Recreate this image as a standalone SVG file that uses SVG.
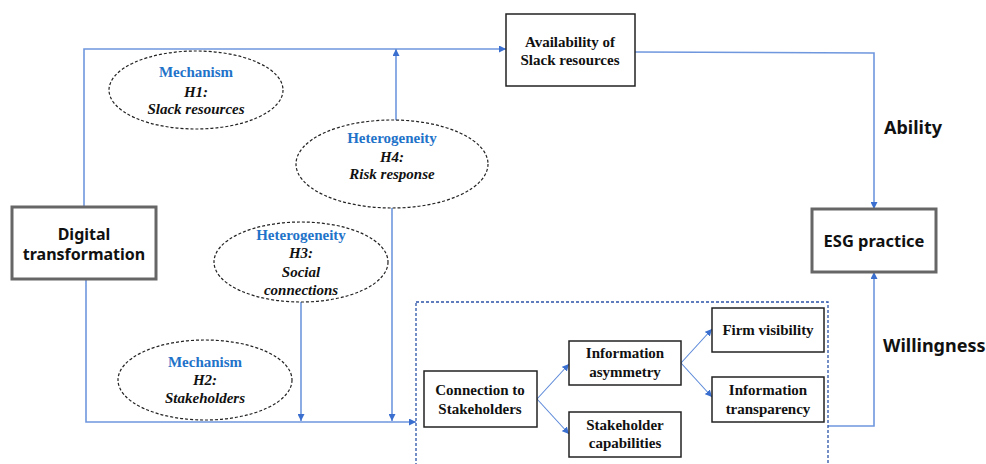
<svg xmlns="http://www.w3.org/2000/svg" width="986" height="464" viewBox="0 0 986 464">
  <defs>
    <marker id="arr" viewBox="0 0 10 10" refX="10" refY="5" markerWidth="7" markerHeight="7" markerUnits="userSpaceOnUse" orient="auto">
      <path d="M0,0 L10,5 L0,10 z" fill="#3a6fd0"/>
    </marker>
    <style>
      .wire { fill: none; stroke: #6f97de; stroke-width: 1.6; }
      .thin { fill: none; stroke: #5b88d8; stroke-width: 1.1; }
      .big { fill: #fff; stroke: #666; stroke-width: 3; }
      .box { fill: #fff; stroke: #222; stroke-width: 1.5; }
      .oval { fill: #fff; stroke: #222; stroke-width: 1.2; stroke-dasharray: 3 2; }
      .frame { fill: none; stroke: #2c53a8; stroke-width: 1.3; stroke-dasharray: 3 2; }
      .sans { font-family: "Noto Sans", "Open Sans", "DejaVu Sans", sans-serif; font-weight: bold; fill: #111; text-anchor: middle; }
      .label { font-family: "Noto Sans", "Open Sans", "DejaVu Sans", sans-serif; font-weight: bold; fill: #111; font-size: 18px; }
      .serif { font-family: "Liberation Serif", "Times New Roman", serif; font-weight: bold; fill: #111; font-size: 15px; text-anchor: middle; }
      .kind { fill: #1f73c9; }
      .it { font-style: italic; }
    </style>
  </defs>

  <!-- connectors -->
  <g id="connectors">
    <polyline class="wire" points="84,207 84,49 506,49" marker-end="url(#arr)"/>
    <polyline class="wire" points="635,52 874,53 874,209" marker-end="url(#arr)"/>
    <line class="wire" x1="396" y1="121" x2="396" y2="49" marker-end="url(#arr)"/>
    <line class="wire" x1="392" y1="208" x2="392" y2="421" marker-end="url(#arr)"/>
    <line class="wire" x1="301" y1="302" x2="301" y2="421" marker-end="url(#arr)"/>
    <polyline class="wire" points="86,279 86,422 416,422" marker-end="url(#arr)"/>
    <polyline class="wire" points="828,426 874,426 874,272" marker-end="url(#arr)"/>
    <line class="thin" x1="537" y1="399" x2="569" y2="364" marker-end="url(#arr)"/>
    <line class="thin" x1="537" y1="399" x2="569" y2="434" marker-end="url(#arr)"/>
    <line class="thin" x1="681" y1="363" x2="712" y2="329" marker-end="url(#arr)"/>
    <line class="thin" x1="681" y1="363" x2="712" y2="397" marker-end="url(#arr)"/>
  </g>

  <!-- stakeholder channel frame -->
  <rect class="frame" x="416" y="302" width="412" height="170"/>

  <g id="digital">
    <rect class="big" x="12" y="207" width="144" height="72"/>
    <text class="sans" font-size="16" x="84" y="240">Digital</text>
    <text class="sans" font-size="16" x="84" y="260">transformation</text>
  </g>

  <g id="slack">
    <rect class="box" x="506" y="14" width="129" height="72"/>
    <text class="serif" x="570" y="47">Availability of</text>
    <text class="serif" x="570" y="65">Slack resources</text>
  </g>

  <g id="esg">
    <rect class="big" x="812" y="209" width="124" height="63"/>
    <text class="sans" font-size="16.5" x="874" y="247">ESG practice</text>
  </g>

  <g id="h1">
    <ellipse class="oval" cx="196" cy="90" rx="87" ry="39"/>
    <text class="serif kind" x="196" y="77">Mechanism</text>
    <text class="serif it" x="196" y="97">H1:</text>
    <text class="serif it" x="196" y="114">Slack resources</text>
  </g>

  <g id="h4">
    <ellipse class="oval" cx="392" cy="164" rx="96" ry="44"/>
    <text class="serif kind" x="392" y="143">Heterogeneity</text>
    <text class="serif it" x="392" y="162">H4:</text>
    <text class="serif it" x="392" y="179">Risk response</text>
  </g>

  <g id="h3">
    <ellipse class="oval" cx="301" cy="262" rx="87" ry="40"/>
    <text class="serif kind" x="301" y="240">Heterogeneity</text>
    <text class="serif it" x="301" y="258">H3:</text>
    <text class="serif it" x="301" y="277">Social</text>
    <text class="serif it" x="301" y="295">connections</text>
  </g>

  <g id="h2">
    <ellipse class="oval" cx="205" cy="380" rx="87" ry="40"/>
    <text class="serif kind" x="205" y="367">Mechanism</text>
    <text class="serif it" x="205" y="385">H2:</text>
    <text class="serif it" x="205" y="403">Stakeholders</text>
  </g>

  <g id="connection">
    <rect class="box" x="424" y="371" width="113" height="56"/>
    <text class="serif" x="480" y="395">Connection to</text>
    <text class="serif" x="480" y="414">Stakeholders</text>
  </g>

  <g id="asymmetry">
    <rect class="box" x="569" y="341" width="112" height="44"/>
    <text class="serif" x="625" y="358">Information</text>
    <text class="serif" x="625" y="377">asymmetry</text>
  </g>

  <g id="capabilities">
    <rect class="box" x="569" y="412" width="112" height="45"/>
    <text class="serif" x="625" y="430">Stakeholder</text>
    <text class="serif" x="625" y="448">capabilities</text>
  </g>

  <g id="visibility">
    <rect class="box" x="712" y="308" width="112" height="44"/>
    <text class="serif" x="768" y="335">Firm visibility</text>
  </g>

  <g id="transparency">
    <rect class="box" x="712" y="377" width="112" height="45"/>
    <text class="serif" x="768" y="395">Information</text>
    <text class="serif" x="768" y="414">transparency</text>
  </g>

  <text class="label" x="884" y="134">Ability</text>
  <text class="label" x="883" y="352">Willingness</text>
</svg>
